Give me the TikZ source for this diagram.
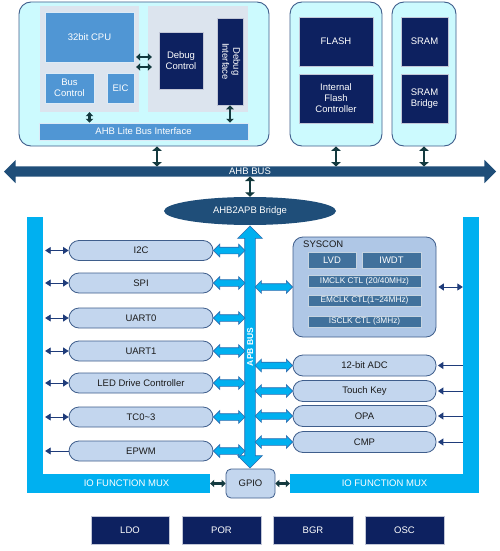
\documentclass[tikz,border=0pt]{standalone}
\usepackage{fontspec}
\usepackage{graphicx}
\setmainfont{Liberation Sans}
\usetikzlibrary{shapes.geometric,shapes.arrows,arrows.meta,calc}
\definecolor{cyanbg}{HTML}{CCFAFE}
\definecolor{frame}{HTML}{3F5E8C}
\definecolor{panel}{HTML}{DCE4EE}
\definecolor{midblue}{HTML}{5096D4}
\definecolor{navy}{HTML}{0D2160}
\definecolor{busblue}{HTML}{1F4E79}
\definecolor{perfill}{HTML}{C3D6EE}
\definecolor{sysfill}{HTML}{AFC7E6}
\definecolor{subfill}{HTML}{41719C}
\definecolor{iocyan}{HTML}{00B0F0}
\definecolor{fatline}{HTML}{2E6DB0}
\definecolor{smallnavy}{HTML}{1F3C7A}
\definecolor{darkteal}{HTML}{143A3F}
\definecolor{txt}{HTML}{1A1A1A}
\newcommand\fatarr[2]{\path let \p1=#1, \p2=#2, \n1={veclen(\x2-\x1,\y2-\y1)} in node[fat, minimum height=\n1] at ($(\p1)!0.5!(\p2)$) {};}
\begin{document}
\begin{tikzpicture}[x=1pt,y=-1pt,
  font=\fontsize{9.5}{11}\selectfont,
  bx/.style={inner sep=0pt, align=center},
  outer/.style={bx, draw=frame, line width=0.9pt, fill=cyanbg, rounded corners=12pt, minimum height=144pt},
  pnl/.style={bx, fill=panel, minimum height=106pt},
  mid/.style={bx, fill=midblue, draw=white!80!midblue, line width=0.5pt, text=white},
  nv/.style={bx, fill=navy, draw=white!75!navy, line width=0.5pt, text=white},
  per/.style={bx, fill=perfill, draw=frame, line width=0.8pt, rounded corners=10pt, text=txt},
  sub/.style={bx, fill=subfill, draw=white!70!subfill, line width=0.5pt, text=white, font=\fontsize{8.3}{9}\selectfont},
  io/.style={bx, fill=iocyan, text=white},
  fat/.style={double arrow, draw=fatline, fill=iocyan, line width=0.6pt, inner xsep=0pt, inner ysep=3pt,
    text height=0pt, text depth=0pt, double arrow head extend=3pt, minimum width=12pt},
  darr/.style={draw=darkteal, line width=2.8pt, {Triangle[length=4.5pt,width=9.5pt]}-{Triangle[length=4.5pt,width=9.5pt]}},
  darrs/.style={draw=darkteal, line width=2.2pt, {Triangle[length=4pt,width=7.5pt]}-{Triangle[length=4pt,width=7.5pt]}},
  sarr/.style={draw=smallnavy, line width=0.9pt, {Triangle[length=5.5pt,width=7pt]}-{Triangle[length=5.5pt,width=7pt]}},
  sarr1/.style={draw=smallnavy, line width=0.9pt, -{Triangle[length=5.5pt,width=7pt]}}
]
\useasboundingbox (0,0) rectangle (500,551);
\fill[white] (0,0) rectangle (500,551);

% ---------- CPU block ----------
\node[outer, minimum width=250pt] (cpuouter) at (144,74) {};
\node[pnl, minimum width=99pt] (panelL) at (89.5,59) {};
\node[pnl, minimum width=100pt] (panelR) at (198,59) {};
\node[mid, minimum width=89pt, minimum height=50pt] (cpu) at (89.5,37) {32bit CPU};
\node[mid, minimum width=49pt, minimum height=30pt] (busctl) at (69.5,88) {Bus\\Control};
\node[mid, minimum width=27pt, minimum height=30pt] (eic) at (120.5,88) {EIC};
\node[nv, minimum width=44pt, minimum height=57pt] (dbgctl) at (181,60.5) {Debug\\Control};
\node[nv, minimum width=26pt, minimum height=87pt] (dbgif) at (230,61.5)
  {\rotatebox{-90}{\begin{tabular}{@{}c@{}}Debug\\Interface\end{tabular}}};
\node[mid, minimum width=209pt, minimum height=17pt] (ahblite) at (143.5,131.5) {AHB Lite Bus Interface};

% ---------- Flash / SRAM ----------
\node[outer, minimum width=92pt] (flashouter) at (336,74) {};
\node[nv, minimum width=74pt, minimum height=49pt] (flash) at (336,41.5) {FLASH};
\node[nv, minimum width=74pt, minimum height=49pt] (ifc) at (336,98.5) {Internal\\Flash\\Controller};
\node[outer, minimum width=64pt] (sramouter) at (424,74) {};
\node[nv, minimum width=47pt, minimum height=49pt] (sram) at (424.5,41.5) {SRAM};
\node[nv, minimum width=47pt, minimum height=49pt] (srambr) at (424.5,98.5) {SRAM\\Bridge};

% ---------- AHB bus ----------
\node[double arrow, fill=busblue, text=white, inner xsep=0pt, inner ysep=2pt, text height=6pt, text depth=0pt,
  double arrow head extend=6.5pt, minimum width=23pt, minimum height=492pt] (bus) at (250,171.5) {AHB BUS};
\coordinate (bustop) at (250,166.5);
\coordinate (busbot) at (250,176.5);
\coordinate (c1) at (157,0);
\node[ellipse, fill=busblue, text=white, minimum width=172pt, minimum height=28pt, inner sep=0pt] (bridge) at (250,211) {AHB2APB Bridge};

% ---------- APB bus ----------
\node[double arrow, rotate=90, fill=iocyan, draw=fatline, line width=0.6pt, text=white,
  font=\fontsize{8.5}{9}\selectfont\bfseries, inner xsep=0pt, inner ysep=2pt, text height=6pt, text depth=0pt,
  double arrow head extend=7pt, minimum width=24pt, minimum height=242pt] (apb) at (250,347) {APB BUS};
\coordinate (apbL) at (245,0);
\coordinate (apbR) at (255,0);

% ---------- IO mux ----------
\node[io, minimum width=16pt, minimum height=276pt] (barL) at (35,355) {};
\node[io, minimum width=167pt, minimum height=19pt] (muxL) at (126.5,483.5) {IO FUNCTION MUX};
\node[io, minimum width=16pt, minimum height=257pt] (barR) at (471,345.5) {};
\node[io, minimum width=189pt, minimum height=19pt] (muxR) at (384.5,483.5) {IO FUNCTION MUX};
\node[per, rounded corners=5pt, minimum width=49pt, minimum height=29pt] (gpio) at (250.5,483.5) {GPIO};

% ---------- left peripherals ----------
\node[per, minimum width=144pt, minimum height=20pt] (i2c) at (141,250.5) {I2C};
\node[per, minimum width=144pt, minimum height=20pt] (spi) at (141,283) {SPI};
\node[per, minimum width=144pt, minimum height=20pt] (uart0) at (141,318) {UART0};
\node[per, minimum width=144pt, minimum height=20pt] (uart1) at (141,351) {UART1};
\node[per, minimum width=144pt, minimum height=20pt] (led) at (141,383) {LED Drive Controller};
\node[per, minimum width=144pt, minimum height=20pt] (tc) at (141,417) {TC0\textasciitilde3};
\node[per, minimum width=144pt, minimum height=20pt] (epwm) at (141,451) {EPWM};

% ---------- SYSCON ----------
\node[per, fill=sysfill, minimum width=143pt, minimum height=100pt] (syscon) at (364.5,287) {};
\node[anchor=west, inner sep=0pt, text=txt] (sysl) at (303,244) {SYSCON};
\node[sub, minimum width=48pt, minimum height=16pt, font=\fontsize{9.5}{11}\selectfont] (lvd) at (332,260) {LVD};
\node[sub, minimum width=59pt, minimum height=16pt, font=\fontsize{9.5}{11}\selectfont] (iwdt) at (391.5,260) {IWDT};
\node[sub, minimum width=113pt, minimum height=12pt] (imclk) at (364.5,281) {IMCLK CTL (20/40MHz)};
\node[sub, minimum width=113pt, minimum height=11pt] (emclk) at (364.5,300.5) {EMCLK CTL(1\textasciitilde24MHz)};
\node[sub, minimum width=113pt, minimum height=11pt] (isclk) at (364.5,321.5) {ISCLK CTL (3MHz)};

% ---------- right peripherals ----------
\node[per, minimum width=143pt, minimum height=21pt] (adc) at (364.5,365.5) {12-bit ADC};
\node[per, minimum width=143pt, minimum height=21pt] (touch) at (364.5,391) {Touch Key};
\node[per, minimum width=143pt, minimum height=21pt] (opa) at (364.5,416) {OPA};
\node[per, minimum width=143pt, minimum height=21pt] (cmp) at (364.5,442) {CMP};

% ---------- bottom blocks ----------
\node[nv, minimum width=78pt, minimum height=28pt] (ldo) at (130,530) {LDO};
\node[nv, minimum width=79pt, minimum height=28pt] (por) at (221.5,530) {POR};
\node[nv, minimum width=80pt, minimum height=28pt] (bgr) at (313,530) {BGR};
\node[nv, minimum width=79pt, minimum height=28pt] (osc) at (404.5,530) {OSC};

% ---------- connectors: CPU block ----------
\coordinate (h1) at (0,57);
\coordinate (h2) at (0,67);
\draw[darrs, shorten <=-3pt, shorten >=-4pt] (panelL.east |- h1) -- (panelR.west |- h1);
\draw[darrs, shorten <=-3pt, shorten >=-4pt] (panelL.east |- h2) -- (panelR.west |- h2);
\draw[darrs] (panelL.south) -- (panelL.south |- ahblite.north);
\draw[darrs] (dbgif.south) -- (dbgif.south |- ahblite.north);

% ---------- connectors: AHB ----------
\draw[darr] (cpuouter.south -| c1) -- (bustop -| c1);
\draw[darr] (flashouter.south) -- (flashouter.south |- bustop);
\draw[darr] (sramouter.south) -- (sramouter.south |- bustop);
\draw[darr] (busbot) -- (bridge.north);

% ---------- connectors: APB fat arrows ----------
\foreach \k in {i2c,spi,uart0,uart1,led,tc,epwm}{\fatarr{(\k.east)}{(\k.east -| apbL)}}
\foreach \k in {syscon,adc,touch,opa,cmp}{\fatarr{(\k.west -| apbR)}{(\k.west)}}

% ---------- connectors: IO mux ----------
\foreach \k in {i2c,spi,uart0,uart1,led,tc}{\draw[sarr, shorten <=2pt] (\k.west -| barL.east) -- (\k.west);}
\draw[sarr1] (epwm.west) -- ([xshift=2pt]epwm.west -| barL.east);
\draw[sarr] (syscon.east) ++(2pt,0) -- (syscon.east -| barR.west);
\foreach \k in {adc,touch,opa,cmp}{\draw[sarr1, shorten >=1.5pt] (\k.east -| barR.west) -- (\k.east);}
\draw[darrs] (muxL.east) -- (gpio.west);
\draw[darrs] (gpio.east) -- (muxR.west);
\end{tikzpicture}
\end{document}
